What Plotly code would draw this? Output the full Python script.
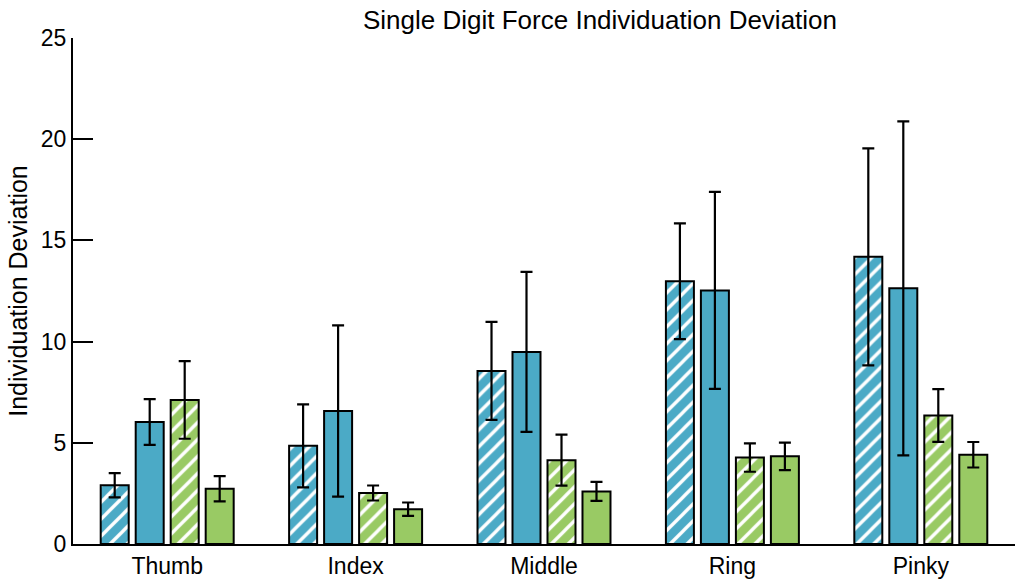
import plotly.graph_objects as go

digits = ["Thumb", "Index", "Middle", "Ring", "Pinky"]

# Mean individuation deviation per digit, four conditions
blue_hatched = [2.9, 4.85, 8.55, 12.98, 14.19]
blue_solid = [6.03, 6.57, 9.49, 12.53, 12.63]
green_hatched = [7.12, 2.52, 4.14, 4.27, 6.35]
green_solid = [2.73, 1.72, 2.6, 4.33, 4.41]

# Error bar half-lengths
blue_hatched_err = [0.6, 2.05, 2.42, 2.86, 5.36]
blue_solid_err = [1.13, 4.23, 3.95, 4.87, 8.25]
green_hatched_err = [1.92, 0.37, 1.26, 0.7, 1.3]
green_solid_err = [0.62, 0.33, 0.47, 0.68, 0.63]

BLUE = "#4BAAC6"
GREEN = "#99CA64"

series = [
    ("Blue, hatched", blue_hatched, blue_hatched_err, BLUE, True),
    ("Blue, solid", blue_solid, blue_solid_err, BLUE, False),
    ("Green, hatched", green_hatched, green_hatched_err, GREEN, True),
    ("Green, solid", green_solid, green_solid_err, GREEN, False),
]

fig = go.Figure()
for name, vals, errs, color, hatched in series:
    marker = dict(color=color, line=dict(color="black", width=2))
    if hatched:
        marker["pattern"] = dict(shape="/", fgcolor="white", bgcolor=color,
                                 size=12, solidity=0.28, fillmode="replace")
    fig.add_trace(go.Bar(
        x=digits, y=vals, name=name, marker=marker,
        error_y=dict(type="data", array=errs, visible=True,
                     color="black", thickness=2.2, width=6),
    ))

FONT = "Liberation Sans, Arial, sans-serif"

fig.update_layout(
    width=1015, height=583,
    margin=dict(l=73, r=0, t=38, b=39),
    paper_bgcolor="white", plot_bgcolor="white",
    barmode="group", bargap=0.257, bargroupgap=0.2,
    showlegend=False,
    font=dict(family=FONT, color="black"),
    annotations=[dict(
        text="Single Digit Force Individuation Deviation",
        xref="paper", yref="paper", x=(600 - 73) / 942, y=1,
        yshift=18, xanchor="center", yanchor="middle",
        showarrow=False, font=dict(size=26, family=FONT, color="black"),
    )],
)
fig.update_xaxes(
    showline=True, linecolor="black", linewidth=2,
    ticks="", showgrid=False, tickfont=dict(size=23),
)
fig.update_yaxes(
    range=[0, 25], tickvals=[0, 5, 10, 15, 20, 25],
    showline=True, linecolor="black", linewidth=2,
    ticks="inside", ticklen=20, tickwidth=2, tickcolor="black",
    showgrid=False, zeroline=False, tickfont=dict(size=23),
    title=dict(text="Individuation Deviation", font=dict(size=25), standoff=6),
)

fig.write_html("out.html")
